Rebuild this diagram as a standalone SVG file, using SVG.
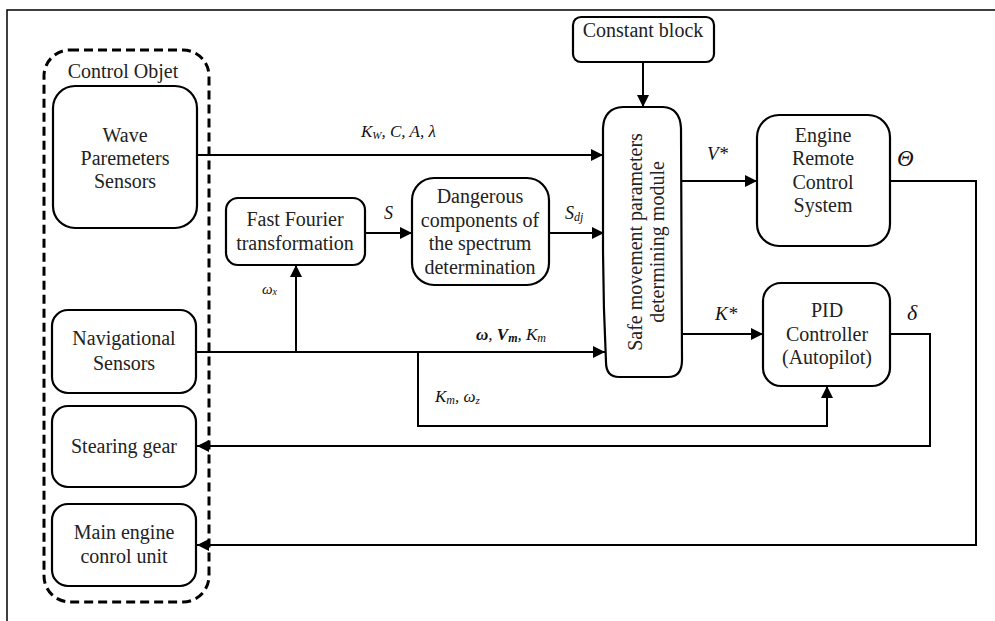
<svg xmlns="http://www.w3.org/2000/svg" width="995" height="621" viewBox="0 0 995 621">
  <defs>
    <marker id="arrow" markerUnits="userSpaceOnUse" markerWidth="13" markerHeight="12" refX="12" refY="6" orient="auto">
      <path d="M0,0 L12,6 L0,12 Z" fill="#000"/>
    </marker>
    <style>
      .box { fill: #fff; stroke: #000; stroke-width: 2.2; }
      .lbl { font-family: "Liberation Serif", "Times New Roman", serif; font-size: 20px; fill: #222; text-anchor: middle; }
      .sym { font-family: "Liberation Serif", "Times New Roman", serif; font-style: italic; fill: #111; }
      .wire { fill: none; stroke: #000; stroke-width: 2; }
      .arr { marker-end: url(#arrow); }
    </style>
  </defs>

  <rect width="995" height="621" fill="#fff"/>
  <!-- page frame (top and left edges) -->
  <path d="M7,621 L7,10 L995,10" fill="none" stroke="#000" stroke-width="1.5"/>

  <!-- control object boundary -->
  <g id="control-object">
    <rect x="44" y="50" width="165" height="552" rx="26" fill="none" stroke="#000" stroke-width="3" stroke-dasharray="9,5"/>
    <text class="lbl" x="123" y="78">Control Objet</text>
  </g>

  <g id="wave-sensors">
    <rect class="box" x="53" y="86" width="144" height="142" rx="22"/>
    <text class="lbl" x="125" y="142">Wave</text>
    <text class="lbl" x="125" y="165">Paremeters</text>
    <text class="lbl" x="125" y="188">Sensors</text>
  </g>

  <g id="nav-sensors">
    <rect class="box" x="52" y="310" width="144" height="83" rx="16"/>
    <text class="lbl" x="124" y="345">Navigational</text>
    <text class="lbl" x="124" y="370">Sensors</text>
  </g>

  <g id="stearing-gear">
    <rect class="box" x="52" y="406" width="144" height="81" rx="16"/>
    <text class="lbl" x="124" y="453">Stearing gear</text>
  </g>

  <g id="main-engine">
    <rect class="box" x="52" y="504" width="144" height="82" rx="16"/>
    <text class="lbl" x="124" y="539">Main engine</text>
    <text class="lbl" x="124" y="563">conrol unit</text>
  </g>

  <g id="fft">
    <rect class="box" x="226" y="198" width="139" height="67" rx="12"/>
    <text class="lbl" x="295" y="226">Fast Fourier</text>
    <text class="lbl" x="295" y="250">transformation</text>
  </g>

  <g id="dangerous">
    <rect class="box" x="412" y="178" width="137" height="107" rx="22"/>
    <text class="lbl" x="480" y="203">Dangerous</text>
    <text class="lbl" x="480" y="227">components of</text>
    <text class="lbl" x="480" y="250">the spectrum</text>
    <text class="lbl" x="480" y="274">determination</text>
  </g>

  <g id="constant-block">
    <rect class="box" x="573" y="17" width="141" height="45" rx="8"/>
    <text class="lbl" x="643" y="37">Constant block</text>
  </g>

  <g id="safe-module">
    <path class="box" d="M623,107 L663,107 Q680,108 681,128 L682,360 Q682,377 668,377 L619,377 Q606,377 606,362 Q603,300 603,240 L603,128 Q604,108 623,107 Z"/>
    <g transform="translate(643,242) rotate(-90)">
      <text class="lbl" x="0" y="-1">Safe movement parameters</text>
      <text class="lbl" x="0" y="21">determining module</text>
    </g>
  </g>

  <g id="engine-remote">
    <rect class="box" x="757" y="115" width="133" height="131" rx="22"/>
    <text class="lbl" x="823" y="142">Engine</text>
    <text class="lbl" x="823" y="165">Remote</text>
    <text class="lbl" x="823" y="189">Control</text>
    <text class="lbl" x="823" y="212">System</text>
  </g>

  <g id="pid">
    <rect class="box" x="763" y="283" width="127" height="103" rx="18"/>
    <text class="lbl" x="827" y="317">PID</text>
    <text class="lbl" x="827" y="341">Controller</text>
    <text class="lbl" x="827" y="364">(Autopilot)</text>
  </g>

  <!-- signal lines -->
  <g id="connectors">
    <path class="wire arr" d="M197,155 L603,155"/>
    <path class="wire arr" d="M365,233 L412,233"/>
    <path class="wire arr" d="M549,233 L604,233"/>
    <path class="wire arr" d="M643,62 L643,107"/>
    <path class="wire arr" d="M196,352 L605,352"/>
    <path class="wire arr" d="M296,352 L296,265"/>
    <path class="wire arr" d="M418,352 L418,426 L827,426 L827,386"/>
    <path class="wire arr" d="M682,181 L757,181"/>
    <path class="wire arr" d="M682,334 L763,334"/>
    <path class="wire arr" d="M890,181 L976,181 L976,545 L197,545"/>
    <path class="wire arr" d="M890,334 L930,334 L930,446 L197,446"/>
  </g>

  <!-- signal names -->
  <g id="signal-labels">
    <text class="sym" x="361" y="137" font-size="17">K<tspan font-size="11" dy="2">W</tspan><tspan dy="-2">, C, A, λ</tspan></text>
    <text class="sym" x="384" y="219" font-size="18">S</text>
    <text class="sym" x="565" y="219" font-size="18">S<tspan font-size="12" dy="2">dj</tspan></text>
    <text class="sym" x="262" y="294" font-size="15">ω<tspan font-size="10" dy="1">x</tspan></text>
    <text class="sym" x="476" y="340" font-size="17"><tspan font-weight="bold">ω</tspan>, <tspan font-weight="bold">V<tspan font-size="12" dy="2">m</tspan></tspan><tspan dy="-2">, K</tspan><tspan font-size="12" dy="2">m</tspan></text>
    <text class="sym" x="435" y="402" font-size="17">K<tspan font-size="12" dy="2">m</tspan><tspan dy="-2">, ω</tspan><tspan font-size="11" dy="2">z</tspan></text>
    <text class="sym" x="707" y="160" font-size="19">V*</text>
    <text class="sym" x="715" y="320" font-size="19">K*</text>
    <text class="sym" x="897" y="166" font-size="23">Θ</text>
    <text class="sym" x="907" y="320" font-size="22">δ</text>
  </g>
</svg>
